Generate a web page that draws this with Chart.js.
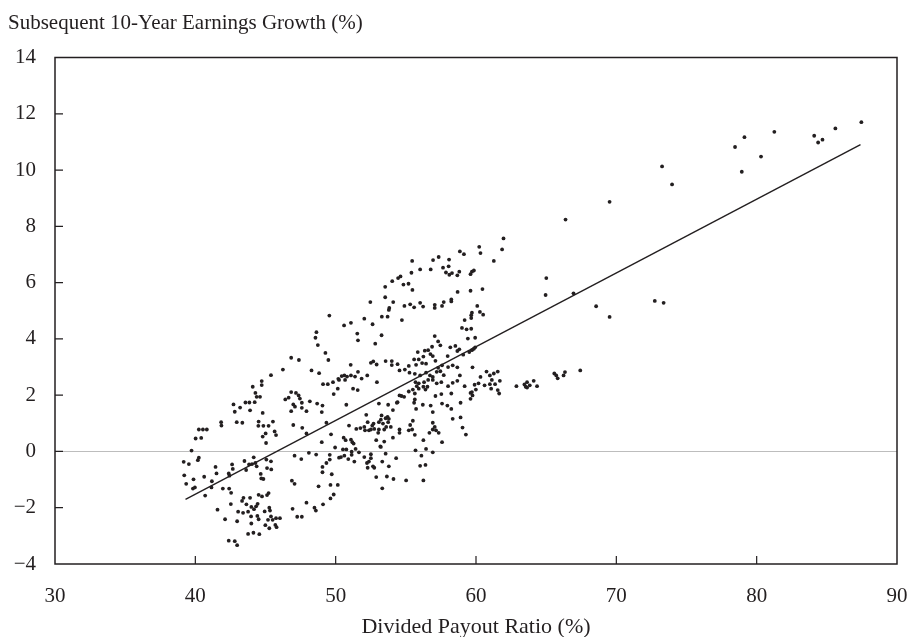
<!DOCTYPE html>
<html>
<head>
<meta charset="utf-8">
<title>Payout ratio vs subsequent earnings growth</title>
<script src="https://cdn.jsdelivr.net/npm/chart.js@4.4.1/dist/chart.umd.min.js"></script>
<style>
  html, body { margin: 0; padding: 0; background: #fff; }
  #wrap { width: 909px; height: 637px; }
</style>
</head>
<body>
<div id="wrap"><canvas id="chart" width="909" height="637"></canvas></div>
<script>
// axis ticks
const xTicks = [30, 40, 50, 60, 70, 80, 90];
const yTicks = [-4, -2, 0, 2, 4, 6, 8, 10, 12, 14];

// [payout ratio %, subsequent 10y earnings growth %], by area
const lowPayout = [
  [44.73,2.50],[44.73,2.36],[44.09,2.30],[44.28,2.08],[44.37,1.94],[44.61,1.94],[42.72,1.67],[43.19,1.56],[43.57,1.74],[43.85,1.74],
  [44.23,1.75],[42.81,1.41],[43.90,1.46],[44.80,1.37],[41.84,1.04],[41.86,0.92],[42.95,1.04],[43.35,1.02],[44.51,1.06],[44.49,0.91],
  [44.85,0.91],[45.22,0.91],[45.53,1.06],[45.65,0.71],[45.75,0.58],[45.01,0.64],[44.80,0.53],[45.04,0.30],[40.25,0.78],[40.54,0.78],
  [40.82,0.78],[40.02,0.46],[40.42,0.48],[39.73,0.03],[40.25,-0.22],[40.18,-0.31],[39.17,-0.37],[39.54,-0.45],[39.21,-0.85],[39.35,-1.15],
  [39.87,-0.99],[39.83,-1.32],[39.97,-1.28],[40.63,-0.90],[40.70,-1.57],[41.18,-1.06],[41.15,-1.28],[41.44,-0.55],[41.51,-0.78],[41.96,-1.32],
  [42.41,-1.32],[42.55,-1.47],[42.38,-0.78],[42.43,-0.86],[42.62,-0.46],[42.67,-0.62],[43.50,-0.34],[43.83,-0.46],[44.04,-0.45],[44.16,-0.21],
  [44.37,-0.53],[44.28,-0.41],[43.62,-0.66],[44.66,-0.80],[44.70,-0.96],[44.85,-0.98],[45.06,-0.29],[45.39,-0.35],[45.11,-0.59],[45.41,-0.64],
  [42.53,-1.87],[43.43,-1.65],[43.33,-1.76],[43.64,-1.88],[43.90,-1.65],[43.99,-1.97],[44.33,-1.95],[44.44,-1.86],[44.51,-1.54],[44.75,-1.60],
  [45.11,-1.55],[45.22,-1.48],[44.18,-2.05],[43.76,-2.14],[43.40,-2.18],[43.05,-2.14],[43.97,-2.31],[44.42,-2.29],[44.51,-2.41],[44.94,-2.13],
  [45.27,-2.00],[45.32,-2.10],[45.39,-2.31],[45.75,-2.37],[46.03,-2.37],[45.18,-2.43],[45.51,-2.43],[44.99,-2.62],[45.27,-2.73],[45.70,-2.61],
  [45.79,-2.69],[41.58,-2.07],[42.12,-2.41],[42.98,-2.48],[43.99,-2.56],[43.76,-2.93],[44.14,-2.89],[44.56,-2.94],[42.38,-3.17],[42.81,-3.19],
  [42.98,-3.33],[47.07,-0.15],[47.55,-0.27],[48.09,-0.05],[48.61,-0.11],[46.88,-1.04],[47.07,-1.15],[48.78,-1.24],[46.93,-2.04],[47.26,-2.32],
  [47.59,-2.32],[47.92,-1.82],[48.49,-2.00],[48.59,-2.10],[46.98,0.94],[47.62,0.84],[47.92,0.64],[46.41,1.85],[46.65,1.91],[46.83,2.11],
  [47.17,2.08],[47.36,1.99],[47.45,1.88],[46.98,1.67],[47.10,1.59],[47.59,1.73],[47.59,1.55],[47.92,1.43],[48.16,1.78],[48.68,1.70],
  [46.83,1.43],[46.83,3.33],[47.38,3.25],[46.24,2.91],[45.39,2.71]
];

const midUpper = [
  [55.45,6.77],[56.94,6.80],[57.34,6.91],[58.08,6.82],[56.77,6.47],[56.02,6.47],[55.40,6.35],[57.65,6.53],[58.05,6.58],[57.86,6.36],
  [58.10,6.28],[58.29,6.34],[58.67,6.26],[58.69,5.67],[54.62,6.22],[54.45,6.16],[54.03,6.05],[53.53,5.85],[54.83,5.93],[55.19,5.96],
  [55.47,5.74],[53.53,5.48],[54.10,5.31],[52.47,5.31],[53.82,5.10],[53.79,5.03],[54.90,5.17],[55.31,5.23],[55.59,5.12],[56.02,5.28],
  [56.23,5.15],[57.06,5.21],[57.06,5.10],[57.58,5.17],[57.70,5.31],[58.24,5.40],[58.24,5.33],[49.55,4.83],[50.60,4.48],[51.09,4.57],
  [52.04,4.72],[52.63,4.52],[53.29,4.79],[53.70,4.79],[54.72,4.67],[51.54,4.19],[51.59,3.95],[53.27,4.13],[52.82,3.83],[48.63,4.24],
  [48.56,4.04],[48.73,3.78],[49.27,3.50],[49.48,3.25],[48.28,2.88],[48.82,2.78],[51.07,3.08],[52.51,3.15],[52.68,3.20],[52.92,3.09],
  [53.56,3.21],[54.00,3.21],[54.00,3.07],[54.41,3.10],[54.55,2.88],[54.93,2.91],[55.21,3.04],[55.85,3.53],[56.35,3.58],[56.59,3.60],
  [57.06,4.10],[57.30,3.91],[57.46,3.77],[56.87,3.72],[56.75,3.46],[56.25,3.37],[55.92,3.27],[55.59,3.27],[56.16,3.14],[55.73,3.08],
  [56.44,3.12],[56.92,3.39],[57.11,3.22],[57.30,2.97],[57.58,3.06],[57.98,3.39],[58.17,3.70],[58.53,3.75],[58.67,3.57],[58.01,3.00],
  [58.34,3.06],[58.67,2.99],[50.62,2.70],[50.43,2.68],[50.81,2.66],[51.09,2.70],[51.38,2.66],[51.59,2.83],[51.85,2.59],[52.25,2.70],
  [50.19,2.58],[55.26,2.80],[55.64,2.76],[56.02,2.70],[56.44,2.80],[56.72,2.70],[56.92,2.65],[57.20,2.83],[57.46,2.85],[57.70,2.71]
];

const midLower = [
  [49.10,2.39],[49.44,2.39],[49.81,2.46],[50.24,2.54],[50.67,2.54],[52.94,2.46],[55.69,2.46],[55.92,2.42],[56.30,2.46],[56.59,2.54],
  [56.92,2.54],[57.20,2.42],[57.53,2.46],[58.01,2.32],[58.34,2.44],[58.67,2.51],[49.86,2.04],[50.15,2.23],[51.24,2.23],[51.57,2.18],
  [49.06,1.63],[49.01,1.40],[50.76,1.66],[49.34,1.02],[50.95,0.92],[49.67,0.61],[49.01,0.33],[53.08,1.70],[53.74,1.66],[54.08,1.47],
  [54.41,1.75],[54.55,1.99],[54.69,1.97],[54.88,1.94],[54.36,1.73],[55.21,2.13],[55.50,2.20],[55.64,2.06],[55.78,2.32],[55.92,2.23],
  [56.25,2.30],[56.40,2.20],[56.54,2.30],[57.11,1.97],[57.53,2.04],[55.64,1.85],[55.59,1.73],[55.73,1.51],[56.21,1.66],[56.77,1.63],
  [56.92,1.40],[57.58,1.70],[57.96,1.63],[58.24,2.06],[58.24,1.51],[58.34,1.16],[52.18,1.30],[52.28,1.04],[52.61,0.92],[52.70,0.99],
  [53.08,1.04],[53.22,1.13],[53.27,1.28],[53.37,0.99],[53.56,1.18],[53.70,1.23],[53.79,1.16],[53.93,0.87],[53.60,0.87],[53.46,0.78],
  [53.08,0.78],[52.75,0.80],[52.51,0.78],[52.37,0.75],[52.09,0.75],[52.04,0.87],[51.76,0.83],[51.47,0.80],[53.03,0.66],[53.74,1.04],
  [54.55,0.78],[54.55,0.66],[55.21,0.75],[55.31,0.94],[55.50,1.09],[55.45,0.78],[55.64,0.59],[54.08,0.49],[56.25,0.40],[56.68,0.66],
  [56.92,1.02],[57.06,0.87],[57.15,0.75],[56.92,0.78],[57.34,0.66],[57.58,0.33],[50.57,0.49],[50.71,0.40],[51.09,0.42],[51.19,0.33],
  [51.28,0.28],[51.42,0.09],[51.14,-0.01],[50.76,0.07],[50.52,0.07],[50.38,-0.20],[50.24,-0.22],[50.62,-0.15],[50.90,-0.27],[51.14,-0.12],
  [51.33,-0.36],[51.66,-0.03],[52.04,-0.20],[52.23,-0.41],[52.37,-0.36],[52.28,-0.58],[52.51,-0.10],[52.51,-0.24],[52.66,-0.53],[52.75,-0.58],
  [52.89,0.40],[53.18,0.18],[53.32,-0.36],[53.46,0.35],[53.56,-0.08],[53.79,-0.53],[54.31,-0.24],[53.22,0.16],[49.96,0.14],[49.58,-0.29],
  [49.58,-0.12],[49.34,-0.41],[49.06,-0.55],[49.06,-0.74],[49.72,-0.81],[49.63,-1.19],[50.15,-1.19],[49.86,-1.53],[49.63,-1.67],[49.10,-1.88],
  [52.89,-0.91],[53.65,-0.89],[54.12,-0.98],[53.32,-1.31],[55.02,-1.03],[56.25,-1.03],[55.69,0.04],[56.11,-0.15],[56.44,0.09],[56.02,-0.51],
  [56.40,-0.48],[56.92,-0.03]
];

const upperRight = [
  [58.90,1.73],[58.90,1.21],[59.04,0.85],[59.28,0.60],[59.19,2.32],[59.61,2.08],[59.61,1.87],[59.75,1.99],[59.71,2.11],[59.90,2.37],
  [59.99,2.20],[60.18,2.42],[60.61,2.35],[60.99,2.39],[61.08,2.23],[61.36,2.39],[61.55,2.18],[61.65,2.06],[61.70,2.51],[61.13,2.54],
  [62.88,2.32],[63.45,2.38],[63.54,2.30],[63.64,2.27],[63.64,2.46],[63.83,2.35],[64.11,2.51],[64.35,2.32],
  [61.96,7.57],[61.86,7.18],[60.23,7.27],[60.32,7.05],[61.27,6.77],[58.85,7.11],[59.14,7.01],[58.81,6.39],[59.61,6.30],[59.71,6.39],
  [59.85,6.43],[59.61,5.71],[60.46,5.77],[60.09,5.17],[60.28,4.96],[60.51,4.86],[59.71,4.93],[59.66,4.84],[59.66,4.74],[59.19,4.67],
  [59.00,4.39],[59.33,4.34],[59.66,4.36],[59.42,4.01],[59.94,4.04],[58.81,3.63],[59.09,3.44],[59.52,3.53],[59.71,3.60],[59.85,3.65],
  [59.94,3.70],[65.01,6.16],[64.96,5.56],[66.95,5.62],[68.56,5.16],[66.38,8.24],[59.75,2.99],[60.75,2.84],[60.99,2.70],[61.27,2.77],
  [61.55,2.84],[60.32,2.65],[58.85,2.70],[65.58,2.77],[65.72,2.70],[65.82,2.60],[66.24,2.70],[66.34,2.82],[67.43,2.88]
];

const highPayout = [
  [69.52,8.87],[69.52,4.78],[73.26,10.13],[73.97,9.49],[72.74,5.35],[73.37,5.28],[78.46,10.82],[79.13,11.17],[78.94,9.94],[80.31,10.48],
  [81.26,11.36],[84.10,11.22],[84.38,10.98],[84.69,11.08],[85.61,11.48],[87.46,11.70]
];

// fitted regression line end points
const fitX = [39.3, 87.4];
const fitY = [-1.70, 10.90];

const ink = '#231f20';
const points = [...lowPayout, ...midUpper, ...midLower, ...upperRight, ...highPayout]
  .map(([x, y]) => ({ x, y }));
const fitLine = fitX.map((x, i) => ({ x, y: fitY[i] }));

Chart.defaults.font.family = "'Liberation Serif', 'DejaVu Serif', serif";
Chart.defaults.color = ink;

// box round the plot and the short inward ticks
const framePlugin = {
  id: 'frame',
  afterDraw(chart) {
    const { ctx, chartArea: { left, top, right, bottom }, scales: { x, y } } = chart;
    ctx.save();
    ctx.strokeStyle = ink;
    ctx.lineWidth = 1.5;
    ctx.strokeRect(left, top, right - left, bottom - top);
    ctx.lineWidth = 1.2;
    ctx.beginPath();
    xTicks.slice(1, -1).forEach(v => {
      const px = x.getPixelForValue(v);
      ctx.moveTo(px, bottom); ctx.lineTo(px, bottom - 8);
    });
    yTicks.slice(1, -1).forEach(v => {
      const py = y.getPixelForValue(v);
      ctx.moveTo(left, py); ctx.lineTo(left + 8, py);
    });
    ctx.stroke();
    ctx.restore();
  }
};

new Chart(document.getElementById('chart'), {
  type: 'scatter',
  data: {
    datasets: [
      { label: 'Years', data: points, backgroundColor: ink, borderWidth: 0, pointRadius: 1.9, pointHoverRadius: 1.9 },
      { label: 'Fit', data: fitLine, showLine: true, borderColor: ink, borderWidth: 1.4, pointRadius: 0, fill: false }
    ]
  },
  options: {
    responsive: false,
    devicePixelRatio: 1,
    animation: false,
    layout: { padding: { left: 8, right: 12, top: 0, bottom: 0 } },
    plugins: {
      legend: { display: false },
      tooltip: { enabled: false },
      title: {
        display: true,
        text: 'Subsequent 10-Year Earnings Growth (%)',
        align: 'start',
        color: ink,
        font: { size: 21, weight: 'normal' },
        padding: { top: 11, bottom: 21.3 }
      }
    },
    scales: {
      x: {
        type: 'linear',
        min: xTicks[0],
        max: xTicks[xTicks.length - 1],
        afterFit: s => { s.height = 73; s.paddingLeft = 0; s.paddingRight = 0; },
        afterBuildTicks: s => { s.ticks = xTicks.map(v => ({ value: v })); },
        grid: { display: false, drawTicks: true, tickLength: 20 },
        border: { display: false },
        ticks: { padding: 0, font: { size: 21 }, color: ink },
        title: {
          display: true,
          text: 'Divided Payout Ratio (%)',
          color: ink,
          font: { size: 22 },
          padding: { top: 0, bottom: -3 }
        }
      },
      y: {
        type: 'linear',
        min: yTicks[0],
        max: yTicks[yTicks.length - 1],
        afterFit: s => { s.width = 47; },
        afterBuildTicks: s => { s.ticks = yTicks.map(v => ({ value: v })); },
        grid: {
          drawTicks: false,
          color: c => (c.tick && c.tick.value === 0 ? '#bdbdbd' : 'rgba(0,0,0,0)'),
          lineWidth: 1
        },
        border: { display: false },
        ticks: {
          padding: 19,
          font: { size: 21 },
          color: ink,
          callback: v => (v < 0 ? '\u2212' + Math.abs(v) : String(v))
        }
      }
    }
  },
  plugins: [framePlugin]
});
</script>
</body>
</html>
